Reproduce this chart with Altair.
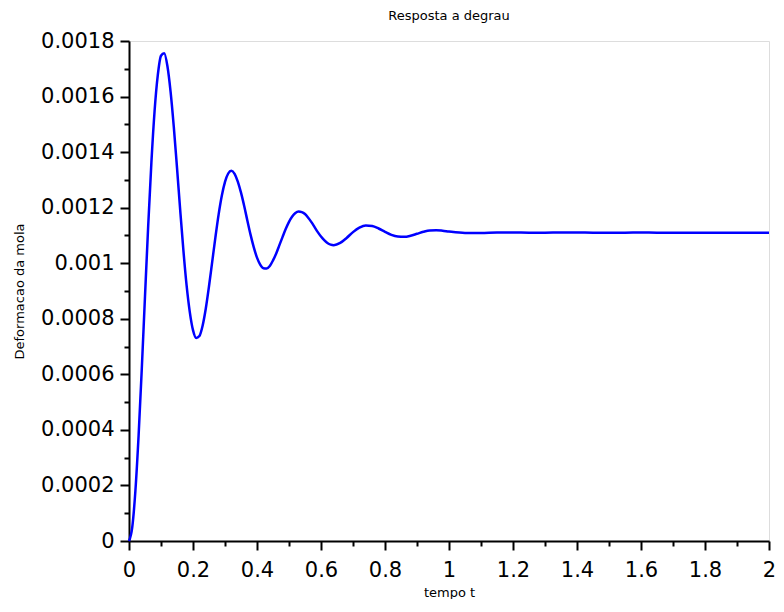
import altair as alt
import pandas as pd

# time (s)
t_values = [
    0.00, 0.01, 0.02, 0.03, 0.04, 0.05, 0.06, 0.07, 0.08, 0.09,
    0.10, 0.11, 0.12, 0.13, 0.14, 0.15, 0.16, 0.17, 0.18, 0.19,
    0.20, 0.21, 0.22, 0.23, 0.24, 0.25, 0.26, 0.27, 0.28, 0.29,
    0.30, 0.31, 0.32, 0.33, 0.34, 0.35, 0.36, 0.37, 0.38, 0.39,
    0.40, 0.41, 0.42, 0.43, 0.44, 0.45, 0.46, 0.47, 0.48, 0.49,
    0.50, 0.51, 0.52, 0.53, 0.54, 0.55, 0.56, 0.57, 0.58, 0.59,
    0.60, 0.61, 0.62, 0.63, 0.64, 0.66, 0.68, 0.70, 0.72, 0.74,
    0.76, 0.78, 0.80, 0.82, 0.84, 0.86, 0.88, 0.90, 0.92, 0.94,
    0.96, 0.98, 1.00, 1.05, 1.10, 1.15, 1.20, 1.25, 1.30, 1.35,
    1.40, 1.45, 1.50, 1.55, 1.60, 1.65, 1.70, 1.75, 1.80, 1.85,
    1.90, 1.95, 2.00,
]

# spring deformation
y_values = [
    0.0, 0.000048, 0.000181, 0.000380, 0.000621, 0.000881, 0.001135, 0.001363, 0.001549, 0.001677,
    0.001747, 0.001756, 0.001710, 0.001617, 0.001491, 0.001344, 0.001191, 0.001046, 0.000920, 0.000824,
    0.000759, 0.000731, 0.000738, 0.000775, 0.000837, 0.000917, 0.001005, 0.001093, 0.001175, 0.001243,
    0.001293, 0.001323, 0.001333, 0.001322, 0.001294, 0.001254, 0.001206, 0.001153, 0.001102, 0.001057,
    0.001020, 0.000995, 0.000982, 0.000981, 0.000990, 0.001010, 0.001035, 0.001065, 0.001095, 0.001124,
    0.001149, 0.001168, 0.001181, 0.001186, 0.001184, 0.001177, 0.001164, 0.001148, 0.001130, 0.001112,
    0.001096, 0.001083, 0.001073, 0.001067, 0.001065, 0.001073, 0.001091, 0.001112, 0.001128, 0.001136,
    0.001134, 0.001125, 0.001113, 0.001102, 0.001096, 0.001095, 0.001099, 0.001106, 0.001113, 0.001118,
    0.001119, 0.001117, 0.001114, 0.001109, 0.001109, 0.001111, 0.001111, 0.001110, 0.001110, 0.001111,
    0.001111, 0.001110, 0.001110, 0.001110, 0.001111, 0.001110, 0.001110, 0.001110, 0.001110, 0.001110,
    0.001110, 0.001110, 0.001110,
]

x_ticks = [round(i * 0.1, 1) for i in range(21)]
y_ticks = [round(i * 0.0001, 4) for i in range(19)]

df = pd.DataFrame({"t": t_values, "y": y_values})

FONT = "DejaVu Sans"

x_axis = alt.Axis(
    values=x_ticks,
    format="~g",
    labelExpr="round(datum.value*10) % 2 == 0 ? datum.label : ''",
    tickSize={"condition": {"test": "round(datum.value*10) % 2 == 0", "value": 9}, "value": 5},
    tickColor="black",
    tickWidth=2,
    domainColor="black",
    domainWidth=2,
    labelFont=FONT,
    labelFontSize=21,
    labelColor="black",
    labelPadding=9,
    labelFlush=False,
    labelOverlap=False,
    grid=False,
    titleFont=FONT,
    titleFontSize=13,
    titleFontWeight="normal",
    titleColor="black",
    titleY=45,
    titleBaseline="top",
)

y_axis = alt.Axis(
    values=y_ticks,
    format="~g",
    labelExpr="round(datum.value*10000) % 2 == 0 ? datum.label : ''",
    tickSize={"condition": {"test": "round(datum.value*10000) % 2 == 0", "value": 9}, "value": 5},
    tickColor="black",
    tickWidth=2,
    domainColor="black",
    domainWidth=2,
    labelFont=FONT,
    labelFontSize=21,
    labelColor="black",
    labelPadding=6,
    labelFlush=False,
    labelOverlap=False,
    grid=False,
    titleFont=FONT,
    titleFontSize=13,
    titleFontWeight="normal",
    titleColor="black",
    titleX=-103,
    titleY=250,
)

chart = (
    alt.Chart(df)
    .mark_line(color="#0000ff", strokeWidth=2.5, interpolate="monotone")
    .encode(
        x=alt.X("t:Q", scale=alt.Scale(domain=[0, 2], nice=False, zero=False), axis=x_axis, title="tempo t"),
        y=alt.Y("y:Q", scale=alt.Scale(domain=[0, 0.0018], nice=False), axis=y_axis, title="Deformacao da mola"),
    )
    .properties(
        width=640,
        height=500,
        title=alt.TitleParams(
            "Resposta a degrau", font=FONT, fontSize=13, fontWeight="normal",
            color="black", offset=7, anchor="middle",
        ),
        autosize=alt.AutoSizeParams(type="none"),
        padding={"left": 121, "top": 33, "right": 7, "bottom": 58},
    )
    .configure_view(strokeWidth=0, stroke="transparent")
    .configure(background="white")
)

chart.save("out.html", embed_options={"renderer": "svg", "actions": False})
